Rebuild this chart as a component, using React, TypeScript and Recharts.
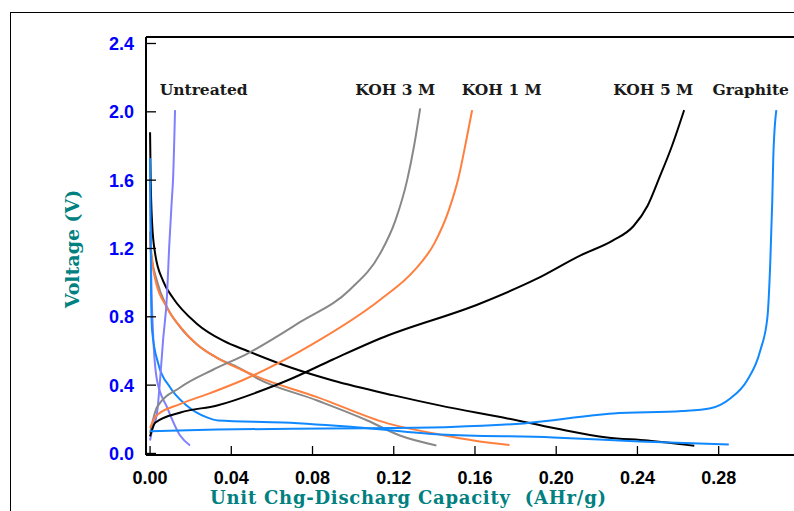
import React from 'react';
import { LineChart, Line, XAxis, YAxis, ReferenceDot, ReferenceLine } from 'recharts';

// ---- data (capacity AHr/g, voltage V) ----
const untreatedDischarge = [
  [0, 1.6], [0.0005, 1.1], [0.0015, 0.7], [0.0034, 0.43], [0.0084, 0.27], [0.0148, 0.105], [0.0197, 0.047],
];
const untreatedCharge = [
  [0, 0.076], [0.001, 0.135], [0.0034, 0.234], [0.0049, 0.427], [0.0064, 0.662], [0.0084, 0.937],
  [0.0094, 1.206], [0.0108, 1.5], [0.0113, 1.6], [0.0123, 2.01],
];
const koh3Discharge = [
  [0, 1.3], [0.0003, 1.19], [0.0034, 1.01], [0.0084, 0.855], [0.0148, 0.74], [0.023, 0.64], [0.033, 0.56],
  [0.044, 0.5], [0.0527, 0.44], [0.0823, 0.31], [0.107, 0.193], [0.123, 0.105], [0.141, 0.047],
];
const koh3Charge = [
  [0, 0.12], [0.0034, 0.27], [0.0148, 0.386], [0.031, 0.49], [0.048, 0.585], [0.074, 0.77],
  [0.0985, 0.96], [0.1133, 1.17], [0.1207, 1.36], [0.1266, 1.6], [0.13, 1.8], [0.133, 2.02],
];
const koh1Discharge = [
  [0, 1.25], [0.002, 1.05], [0.0085, 0.85], [0.015, 0.74], [0.023, 0.64], [0.033, 0.56], [0.045, 0.49],
  [0.0527, 0.45], [0.0823, 0.33], [0.117, 0.176], [0.143, 0.11], [0.16, 0.075], [0.177, 0.05],
];
const koh1Charge = [
  [0, 0.15], [0.003, 0.22], [0.015, 0.29], [0.03, 0.355], [0.0458, 0.43], [0.08, 0.64],
  [0.1133, 0.9], [0.13, 1.07], [0.14, 1.23], [0.147, 1.42], [0.152, 1.62], [0.1555, 1.82], [0.1586, 2.01],
];
const koh5Discharge = [
  [0, 1.88], [0.0003, 1.6], [0.0005, 1.5], [0.001, 1.35], [0.0025, 1.17], [0.0064, 1.01], [0.0113, 0.91],
  [0.023, 0.76], [0.036, 0.66], [0.048, 0.6], [0.07, 0.5], [0.09, 0.427], [0.12, 0.34], [0.143, 0.28],
  [0.176, 0.205], [0.2, 0.146], [0.225, 0.094], [0.245, 0.076], [0.268, 0.045],
];
const koh5Charge = [
  [0, 0.1], [0.0025, 0.18], [0.015, 0.24], [0.033, 0.281], [0.0576, 0.38], [0.0675, 0.427], [0.09, 0.55],
  [0.1133, 0.673], [0.1626, 0.878], [0.19, 1.02], [0.212, 1.16], [0.228, 1.247], [0.238, 1.33],
  [0.245, 1.45], [0.251, 1.62], [0.257, 1.8], [0.263, 2.01],
];
const graphiteDischarge = [
  [0, 1.73], [0.0003, 1.3], [0.0005, 0.94], [0.001, 0.72], [0.004, 0.527], [0.0099, 0.386], [0.018, 0.281],
  [0.028, 0.211], [0.0335, 0.193], [0.0655, 0.181], [0.103, 0.152], [0.143, 0.111], [0.1985, 0.094],
  [0.241, 0.07], [0.285, 0.053],
];
const graphiteCharge = [
  [0, 0.13], [0.033, 0.14], [0.07, 0.145], [0.107, 0.148], [0.148, 0.155], [0.184, 0.176], [0.228, 0.234],
  [0.262, 0.248], [0.276, 0.265], [0.2857, 0.322], [0.294, 0.427], [0.3005, 0.603], [0.304, 0.796],
  [0.3054, 1.112], [0.3064, 1.48], [0.3069, 1.733], [0.3084, 2.01],
];

const seriesNames = ['Untreated', 'KOH 3 M', 'KOH 1 M', 'KOH 5 M', 'Graphite'];
const seriesColors = ['#8080ff', '#888888', '#ff7f3f', '#000000', '#1088ff'];
const seriesDischarge = [untreatedDischarge, koh3Discharge, koh1Discharge, koh5Discharge, graphiteDischarge];
const seriesCharge = [untreatedCharge, koh3Charge, koh1Charge, koh5Charge, graphiteCharge];
const labelX = [0.0264, 0.1207, 0.1732, 0.2478, 0.2958];
const labelY = [2.131, 2.131, 2.131, 2.131, 2.131];

const xTicks = [0, 0.04, 0.08, 0.12, 0.16, 0.2, 0.24, 0.28];
const yTicks = [0, 0.4, 0.8, 1.2, 1.6, 2.0, 2.4];
const X_DOMAIN = [-0.002, 0.3171];
const Y_DOMAIN = [-0.009, 2.438];

const toPts = (a: number[][]) => a.map(([x, v]) => ({ x, v }));

const SANS = '"Liberation Sans", Arial, sans-serif';
const SERIF = '"DejaVu Serif", serif';

const XTick = (props: any) => {
  const { x, y, payload } = props;
  return (
    <g>
      <line x1={x} x2={x} y1={y} y2={y - 9} stroke="#000" strokeWidth={1.3} />
      <text x={x} y={y + 28.5} textAnchor="middle" fontFamily={SANS} fontWeight="bold" fontSize={18} fill="#000">
        {Number(payload.value).toFixed(2)}
      </text>
    </g>
  );
};

const YTick = (props: any) => {
  const { x, y, payload } = props;
  return (
    <g>
      <line x1={x} x2={x + 10} y1={y} y2={y} stroke="#000" strokeWidth={1.3} />
      <text x={x - 12} y={y + 6.5} textAnchor="end" fontFamily={SANS} fontWeight="bold" fontSize={18} fill="#0000ff">
        {Number(payload.value).toFixed(1)}
      </text>
    </g>
  );
};

const XTitle = (props: any) => {
  const vb = props.viewBox;
  return (
    <text
      x={vb.x + 262}
      y={vb.y + 48.5}
      textAnchor="middle"
      fontFamily={SERIF}
      fontWeight="bold"
      fontSize={18}
      textLength={396}
      lengthAdjust="spacing"
      fill="#008080"
    >
      {'Unit Chg-Discharg Capacity\u00a0 (AHr/g)'}
    </text>
  );
};

const YTitle = (props: any) => {
  const vb = props.viewBox;
  const cx = vb.x + 79;
  const cy = vb.y + 212;
  return (
    <text x={cx} y={cy} transform={`rotate(-90 ${cx} ${cy})`} textAnchor="middle" fontFamily={SERIF} fontWeight="bold" fontSize={19} fill="#008080">
      Voltage (V)
    </text>
  );
};

const makeSeriesLabel = (name: string) => (props: any) => {
  const vb = props.viewBox;
  return (
    <text x={vb.x} y={vb.y + 5.5} textAnchor="middle" fontFamily={SERIF} fontWeight="bold" fontSize={15.5} fill="#1a1a1a">
      {name}
    </text>
  );
};

export default function App() {
  return (
    <div style={{ position: 'fixed', left: 0, top: 0, width: 794, height: 511, background: '#fff', overflow: 'hidden' }}>
      <div style={{ position: 'absolute', left: 0, top: 0, zIndex: 1 }}>
        <LineChart width={794} height={511} margin={{ top: 37, right: 0, bottom: 0, left: 0 }}>
          <XAxis
            type="number"
            dataKey="x"
            domain={X_DOMAIN}
            ticks={xTicks}
            allowDataOverflow
            height={56}
            tickSize={0}
            tickMargin={0}
            tickLine={false}
            tick={<XTick />}
            axisLine={{ stroke: '#000', strokeWidth: 2 }}
            label={XTitle}
          />
          <YAxis
            type="number"
            dataKey="v"
            domain={Y_DOMAIN}
            ticks={yTicks}
            allowDataOverflow
            width={146}
            tickSize={0}
            tickMargin={0}
            tickLine={false}
            tick={<YTick />}
            axisLine={{ stroke: '#000', strokeWidth: 2 }}
            label={YTitle}
          />
          <ReferenceLine y={Y_DOMAIN[1]} stroke="#000" strokeWidth={2} ifOverflow="visible" />
          {seriesNames.map((name, i) => (
            <Line
              key={name + '-d'}
              data={toPts(seriesDischarge[i])}
              dataKey="v"
              type="monotone"
              stroke={seriesColors[i]}
              strokeWidth={2}
              dot={false}
              activeDot={false}
              isAnimationActive={false}
            />
          ))}
          {seriesNames.map((name, i) => (
            <Line
              key={name + '-c'}
              data={toPts(seriesCharge[i])}
              dataKey="v"
              type="monotone"
              stroke={seriesColors[i]}
              strokeWidth={2}
              dot={false}
              activeDot={false}
              isAnimationActive={false}
            />
          ))}
          {seriesNames.map((name, i) => (
            <ReferenceDot
              key={name + '-l'}
              x={labelX[i]}
              y={labelY[i]}
              r={0}
              fill="none"
              stroke="none"
              label={makeSeriesLabel(name)}
            />
          ))}
        </LineChart>
      </div>
      <div
        style={{
          position: 'absolute', left: 10, top: 12, width: 784, height: 499, zIndex: 2, boxSizing: 'border-box',
          borderLeft: '1px solid #000', borderTop: '1px solid #000', pointerEvents: 'none',
        }}
      />
    </div>
  );
}
